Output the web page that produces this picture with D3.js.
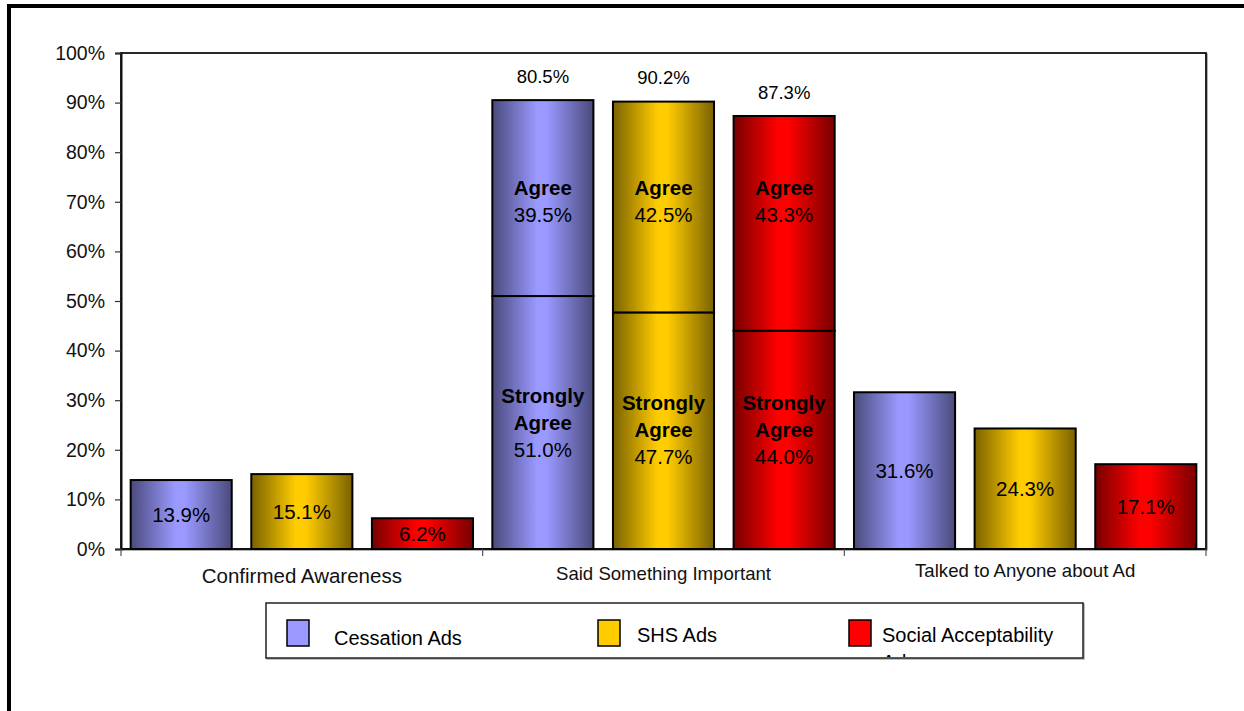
<!DOCTYPE html>
<html>
<head>
<meta charset="utf-8">
<script src="https://cdn.jsdelivr.net/npm/d3@7"></script>
<style>
  html, body { margin: 0; padding: 0; background: #fff; }
  svg { display: block; font-family: "Liberation Sans", Arial, sans-serif; }
</style>
</head>
<body>
<svg id="chart" width="1244" height="711"></svg>
<script>
// Survey results by ad type
const categories = ["Confirmed Awareness", "Said Something Important", "Talked to Anyone about Ad"];
const adTypes = ["Cessation Ads", "SHS Ads", "Social Acceptability Ads"];
const confirmedAwareness = [13.9, 15.1, 6.2];
const stronglyAgree = [51.0, 47.7, 44.0];
const agree = [39.5, 42.5, 43.3];
const importantTotalLabels = ["80.5%", "90.2%", "87.3%"];
const talkedToAnyone = [31.6, 24.3, 17.1];
const yTickValues = [0, 10, 20, 30, 40, 50, 60, 70, 80, 90, 100];

// Fill colours: centre highlight and shaded edge for each ad type
const baseColors = ["#9999FF", "#FFCC00", "#FF0000"];
const edgeColors = ["#4A4A7C", "#7A6200", "#780000"];

const svg = d3.select("#chart");
const plot = { left: 121, right: 1206, top: 53, bottom: 549 };

const x0 = d3.scaleBand().domain(categories).range([plot.left, plot.right]).padding(0);
const x1 = d3.scaleBand().domain(adTypes).range([0, x0.bandwidth()])
  .paddingInner(0.162).paddingOuter(0.08);
const y = d3.scaleLinear().domain([0, 100]).range([plot.bottom, plot.top]);
const fmt = v => v.toFixed(1) + "%";

// Horizontal cylinder-style gradients
const defs = svg.append("defs");
adTypes.forEach((t, i) => {
  const g = defs.append("linearGradient").attr("id", "grad" + i)
    .attr("x1", "0%").attr("x2", "100%").attr("y1", "0%").attr("y2", "0%");
  g.append("stop").attr("offset", "0%").attr("stop-color", edgeColors[i]);
  g.append("stop").attr("offset", "44%").attr("stop-color", baseColors[i]);
  g.append("stop").attr("offset", "54%").attr("stop-color", baseColors[i]);
  g.append("stop").attr("offset", "100%").attr("stop-color", edgeColors[i]);
});
defs.append("clipPath").attr("id", "legendClip")
  .append("rect").attr("x", 266).attr("y", 603).attr("width", 817).attr("height", 54);

// Outer frame
svg.append("rect").attr("x", 9).attr("y", 6).attr("width", 1400).attr("height", 900)
  .attr("fill", "none").attr("stroke", "#000").attr("stroke-width", 4);

// Plot area border with a soft shadow
svg.append("rect").attr("x", plot.left + 1).attr("y", plot.top + 1)
  .attr("width", plot.right - plot.left).attr("height", plot.bottom - plot.top)
  .attr("fill", "none").attr("stroke", "#999").attr("stroke-width", 1.5);
svg.append("rect").attr("x", plot.left).attr("y", plot.top)
  .attr("width", plot.right - plot.left).attr("height", plot.bottom - plot.top)
  .attr("fill", "#fff").attr("stroke", "#111").attr("stroke-width", 1.8);

// Y axis
const yAxis = svg.append("g").attr("transform", `translate(${plot.left},0)`)
  .call(d3.axisLeft(y).tickValues(yTickValues).tickFormat(d => d + "%").tickSize(6).tickPadding(10));
yAxis.select(".domain").attr("stroke", "#111").attr("stroke-width", 2);
yAxis.selectAll(".tick line").attr("stroke", "#333").attr("stroke-width", 1.2);
yAxis.selectAll(".tick text").attr("fill", "#111").style("font-size", "19.5px")
  .style("font-family", "'Liberation Sans', Arial, sans-serif");

// X axis baseline, boundary ticks and category labels
const xAxis = svg.append("g");
xAxis.append("line").attr("x1", plot.left).attr("x2", plot.right)
  .attr("y1", plot.bottom).attr("y2", plot.bottom).attr("stroke", "#111").attr("stroke-width", 2);
const bounds = categories.map(c => x0(c)).concat([x0(categories[2]) + x0.bandwidth()]);
xAxis.selectAll("line.tick").data(bounds).join("line").attr("class", "tick")
  .attr("x1", d => d).attr("x2", d => d).attr("y1", plot.bottom).attr("y2", plot.bottom + 7)
  .attr("stroke", "#555").attr("stroke-width", 1.2);
xAxis.selectAll("text").data(categories).join("text")
  .attr("x", c => x0(c) + x0.bandwidth() / 2)
  .attr("y", (c, i) => 583 - i * 3)
  .attr("text-anchor", "middle").attr("fill", "#111")
  .style("font-size", (c, i) => i === 0 ? "20.5px" : "18.6px")
  .text(c => c);

// Simple bars (first and last groups)
const simpleGroups = [
  { cat: categories[0], values: confirmedAwareness },
  { cat: categories[2], values: talkedToAnyone }
];
simpleGroups.forEach(grp => {
  const g = svg.append("g");
  const data = grp.values.map((v, i) => ({ v, i }));
  g.selectAll("rect").data(data).join("rect")
    .attr("x", d => x0(grp.cat) + x1(adTypes[d.i]))
    .attr("y", d => y(d.v))
    .attr("width", x1.bandwidth())
    .attr("height", d => y(0) - y(d.v))
    .attr("fill", d => `url(#grad${d.i})`)
    .attr("stroke", "#000").attr("stroke-width", 2);
  g.selectAll("text").data(data).join("text")
    .attr("x", d => x0(grp.cat) + x1(adTypes[d.i]) + x1.bandwidth() / 2)
    .attr("y", d => (y(d.v) + y(0)) / 2)
    .attr("dy", "0.36em").attr("text-anchor", "middle").attr("fill", "#000")
    .style("font-size", "20.5px")
    .text(d => fmt(d.v));
});

// Stacked bars: Strongly Agree + Agree
const stackRows = adTypes.map((t, i) => ({ type: t, i, strong: stronglyAgree[i], agree: agree[i] }));
const stack = d3.stack().keys(["strong", "agree"])(stackRows);
const cat1 = categories[1];
const bx = i => x0(cat1) + x1(adTypes[i]);
const sg = svg.append("g");
stack.forEach(layer => {
  sg.selectAll(null).data(layer).join("rect")
    .attr("x", d => bx(d.data.i))
    .attr("y", d => y(d[1]))
    .attr("width", x1.bandwidth())
    .attr("height", d => y(d[0]) - y(d[1]))
    .attr("fill", d => `url(#grad${d.data.i})`)
    .attr("stroke", "#000").attr("stroke-width", 2);
});

// Labels inside the Strongly Agree segments
stack[0].forEach(d => {
  const cx = bx(d.data.i) + x1.bandwidth() / 2;
  const cy = Math.min((y(d[0]) + y(d[1])) / 2, y(24));
  const t = sg.append("text").attr("text-anchor", "middle").attr("fill", "#000").style("font-size", "20.5px");
  t.append("tspan").attr("x", cx).attr("y", cy - 27).attr("dy", "0.36em").style("font-weight", "bold").text("Strongly");
  t.append("tspan").attr("x", cx).attr("y", cy).attr("dy", "0.36em").style("font-weight", "bold").text("Agree");
  t.append("tspan").attr("x", cx).attr("y", cy + 27).attr("dy", "0.36em").text(fmt(d.data.strong));
});

// Labels inside the Agree segments, set on the 70% line
stack[1].forEach(d => {
  const cx = bx(d.data.i) + x1.bandwidth() / 2;
  const cy = y(70);
  const t = sg.append("text").attr("text-anchor", "middle").attr("fill", "#000").style("font-size", "20.5px");
  t.append("tspan").attr("x", cx).attr("y", cy - 14).attr("dy", "0.36em").style("font-weight", "bold").text("Agree");
  t.append("tspan").attr("x", cx).attr("y", cy + 13).attr("dy", "0.36em").text(fmt(d.data.agree));
});

// Total labels above the stacked bars
stack[1].forEach(d => {
  sg.append("text")
    .attr("x", bx(d.data.i) + x1.bandwidth() / 2)
    .attr("y", y(d[1]) - 24).attr("dy", "0.36em")
    .attr("text-anchor", "middle").attr("fill", "#000").style("font-size", "18.5px")
    .text(importantTotalLabels[d.data.i]);
});

// Legend
const lg = svg.append("g");
lg.append("rect").attr("x", 267).attr("y", 604).attr("width", 817).attr("height", 55)
  .attr("fill", "none").attr("stroke", "#aaa").attr("stroke-width", 1.5);
lg.append("rect").attr("x", 266).attr("y", 603).attr("width", 817).attr("height", 55)
  .attr("fill", "#fff").attr("stroke", "#222").attr("stroke-width", 1.5);
const swatchX = [287, 598, 849];
const labelX = [334, 637, 882];
const legendItems = lg.append("g").attr("clip-path", "url(#legendClip)");
adTypes.forEach((t, i) => {
  legendItems.append("rect").attr("x", swatchX[i]).attr("y", 620).attr("width", 22).attr("height", 26)
    .attr("fill", baseColors[i]).attr("stroke", "#000").attr("stroke-width", 1.5);
  const words = t.split(" ");
  const lines = words.length > 2 ? [words.slice(0, 2).join(" "), words.slice(2).join(" ")] : [t];
  const txt = legendItems.append("text").attr("fill", "#000").style("font-size", "20px");
  lines.forEach((ln, k) => {
    txt.append("tspan").attr("x", labelX[i]).attr("y", (i === 0 ? 645 : 642) + k * 27).text(ln);
  });
});
</script>
</body>
</html>
